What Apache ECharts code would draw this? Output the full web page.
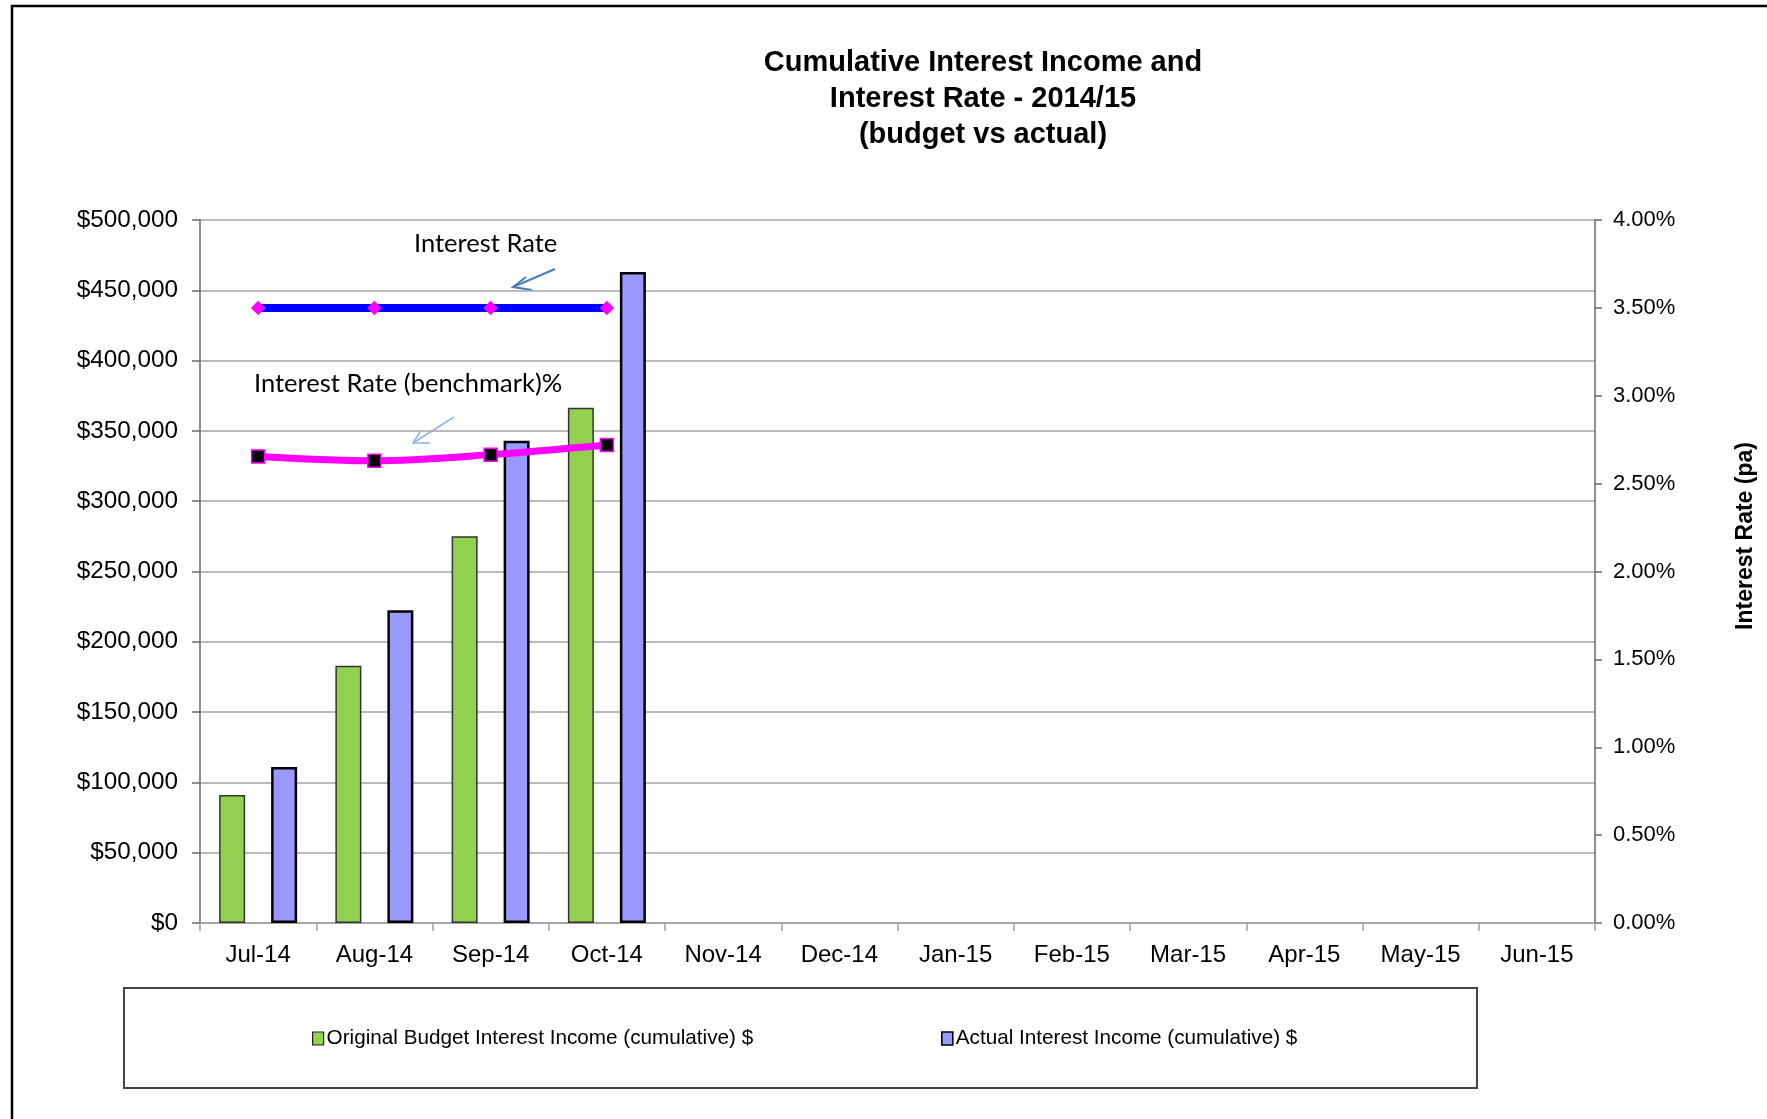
<!DOCTYPE html>
<html>
<head>
<meta charset="utf-8">
<script src="https://cdn.jsdelivr.net/npm/echarts@6/dist/echarts.min.js"></script>
<style>
html,body{margin:0;padding:0;background:#fff;}
#chart{width:1767px;height:1119px;}
</style>
</head>
<body>
<div id="chart"></div>
<script>
// ---- data ----
const categories = ['Jul-14','Aug-14','Sep-14','Oct-14','Nov-14','Dec-14','Jan-15','Feb-15','Mar-15','Apr-15','May-15','Jun-15'];
const budgetIncome = [91000, 183000, 275000, 366500, null, null, null, null, null, null, null, null];
const actualIncome = [111000, 222500, 343000, 463000, null, null, null, null, null, null, null, null];
const interestRate = [3.50, 3.50, 3.50, 3.50, null, null, null, null, null, null, null, null];
const benchmarkRate = [2.655, 2.63, 2.665, 2.72, null, null, null, null, null, null, null, null];
const leftAxisMax = 500000, leftAxisStep = 50000;
const rightAxisMax = 4, rightAxisStep = 0.5;
const titleLines = ['Cumulative Interest Income and', 'Interest Rate - 2014/15', '(budget vs actual)'];
const seriesNames = ['Original Budget Interest Income (cumulative) $', 'Actual Interest Income (cumulative) $', 'Interest Rate', 'Interest Rate (benchmark)%'];
const rightAxisName = 'Interest Rate (pa)';

const FONT = '"Liberation Sans", Arial, sans-serif';
const chart = echarts.init(document.getElementById('chart'), null, {renderer: 'canvas'});

const option = {
  backgroundColor: '#ffffff',
  animation: false,
  title: {
    text: titleLines.join('\n'),
    left: 978,
    textAlign: 'center',
    top: 40,
    textStyle: {fontFamily: FONT, fontWeight: 'bold', fontSize: 29, lineHeight: 36, color: '#000'}
  },
  legend: [
    {
      data: [seriesNames[0]],
      left: 307, top: 1023,
      itemWidth: 11, itemHeight: 13, itemGap: 5,
      icon: 'rect',
      itemStyle: {borderColor: '#222', borderWidth: 1.2},
      textStyle: {fontFamily: FONT, fontSize: 20.7, color: '#000', padding: [0,0,0,-2]}
    },
    {
      data: [seriesNames[1]],
      left: 936, top: 1023,
      itemWidth: 11, itemHeight: 13, itemGap: 5,
      icon: 'rect',
      itemStyle: {borderColor: '#000', borderWidth: 1.6},
      textStyle: {fontFamily: FONT, fontSize: 20.7, color: '#000', padding: [0,0,0,-2]}
    }
  ],
  grid: {left: 200, right: 172, top: 220, bottom: 196, containLabel: false},
  xAxis: {
    type: 'category',
    data: categories,
    boundaryGap: true,
    axisLine: {lineStyle: {color: '#a0a0a0', width: 1.5}},
    axisTick: {show: true, length: 8, lineStyle: {color: '#a0a0a0', width: 1.5}},
    axisLabel: {fontFamily: FONT, fontSize: 24, color: '#000', margin: 20}
  },
  yAxis: [
    {
      type: 'value', min: 0, max: leftAxisMax, interval: leftAxisStep,
      axisLine: {show: true, lineStyle: {color: '#6a6a6a', width: 1.5}},
      axisTick: {show: true, length: 8, lineStyle: {color: '#6a6a6a', width: 1.5}},
      splitLine: {show: true, lineStyle: {color: '#a3a3a3', width: 1.5}},
      axisLabel: {fontFamily: FONT, fontSize: 24.3, color: '#000', margin: 22,
        formatter: v => '$' + v.toLocaleString('en-US')}
    },
    {
      type: 'value', min: 0, max: rightAxisMax, interval: rightAxisStep,
      position: 'right',
      axisLine: {show: true, lineStyle: {color: '#6a6a6a', width: 1.5}},
      axisTick: {show: true, length: 7, lineStyle: {color: '#6a6a6a', width: 1.5}},
      splitLine: {show: false},
      axisLabel: {fontFamily: FONT, fontSize: 22, color: '#000', margin: 18,
        formatter: v => v.toFixed(2) + '%'}
    }
  ],
  series: [
    {
      name: seriesNames[0], type: 'bar', yAxisIndex: 0,
      data: budgetIncome, barWidth: 26, barGap: '100%',
      itemStyle: {color: '#92d050', borderColor: '#333', borderWidth: 1.5}
    },
    {
      name: seriesNames[1], type: 'bar', yAxisIndex: 0,
      data: actualIncome, barWidth: 26,
      itemStyle: {color: '#9999ff', borderColor: '#000', borderWidth: 2.5}
    },
    {
      name: seriesNames[2], type: 'line', yAxisIndex: 1,
      data: interestRate, z: 5,
      lineStyle: {color: '#0000ff', width: 8},
      symbol: 'diamond', symbolSize: 14,
      itemStyle: {color: '#ff00ff', borderColor: '#cc33cc', borderWidth: 0.5}
    },
    {
      name: seriesNames[3], type: 'line', yAxisIndex: 1,
      data: benchmarkRate, smooth: 0.3, z: 5,
      lineStyle: {color: '#ff00ff', width: 7},
      symbol: 'rect', symbolSize: 13,
      itemStyle: {color: '#000', borderColor: '#ff00ff', borderWidth: 1.5}
    }
  ],
  graphic: [
    // outer chart border
    {type: 'rect', shape: {x: 12, y: 6, width: 1800, height: 1200}, style: {fill: 'none', stroke: '#000', lineWidth: 2.5}, silent: true},
    // legend box
    {type: 'rect', shape: {x: 124, y: 988, width: 1353, height: 100}, style: {fill: 'none', stroke: '#444', lineWidth: 2}, z: -1, silent: true},
    // right axis title
    {type: 'text', x: 1746, y: 536, rotation: Math.PI / 2,
      style: {text: rightAxisName, font: 'bold 23px "Liberation Sans", Arial, sans-serif', fill: '#000', align: 'center', verticalAlign: 'middle'}},
    // annotations
    {type: 'text', x: 414, y: 244,
      style: {text: seriesNames[2], font: '25.5px Lato, "Open Sans", sans-serif', fill: '#000', align: 'left', verticalAlign: 'middle'}},
    {type: 'text', x: 254, y: 384,
      style: {text: seriesNames[3], font: '25.5px Lato, "Open Sans", sans-serif', fill: '#000', align: 'left', verticalAlign: 'middle'}},
    {type: 'polyline', shape: {points: [[555, 269], [513, 287]]}, style: {stroke: '#4a7ebb', lineWidth: 2, fill: 'none'}},
    {type: 'polyline', shape: {points: [[526, 277], [513, 287], [532, 290]]}, style: {stroke: '#4a7ebb', lineWidth: 2, fill: 'none'}},
    {type: 'polyline', shape: {points: [[454, 417], [413, 443]]}, style: {stroke: '#8db4e2', lineWidth: 1.5, fill: 'none'}},
    {type: 'polyline', shape: {points: [[420, 432], [413, 443], [430, 443]]}, style: {stroke: '#8db4e2', lineWidth: 1.5, fill: 'none'}}
  ]
};
chart.setOption(option);
</script>
</body>
</html>
